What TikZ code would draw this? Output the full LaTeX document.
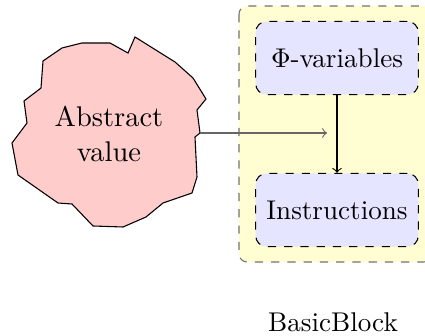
\documentclass[tikz,border=0pt]{standalone}
\usepackage{amssymb}
\usepackage{tikz}
\usepackage{xcolor}
\usetikzlibrary{arrows, calc, positioning}

\begin{document}
\begin{tikzpicture}[x=0.369pt, y=-0.369pt,
                        block/.style={draw=black!55, dashed, fill=yellow!18, rounded corners=3pt},
                        part/.style={draw, dashed, fill=blue!10, rounded corners, minimum width=60pt, minimum height=27pt},
                        value/.style={draw, fill=red!20}]
                        \useasboundingbox (0, 0) rectangle (425, 336);
                        \clip (0, 0) rectangle (425, 336);
                        % basic block
                        \draw[block] (239, 6) rectangle (432, 262);
                        \node[] (bb) at (333, 322) {BasicBlock};
                        \node[part] (phi) at (337, 58) {$\Phi$-variables};
                        \node[part] (instr) at (337, 210) {Instructions};
                        % abstract value
                        \draw[value] (135, 37) -- (128, 53) -- (110, 43) -- (82, 43) -- (62, 48)
                        -- (43, 61) -- (41, 88) -- (24, 101) -- (27, 123) -- (12, 143)
                        -- (18, 175) -- (58, 203) -- (72, 204) -- (93, 226) -- (123, 227)
                        -- (146, 217) -- (163, 203) -- (192, 193) -- (197, 177) -- (195, 137)
                        -- (200, 133) -- (197, 110) -- (206, 99) -- (193, 78) -- (175, 62) -- cycle;
                        \node[align=center, scale=1.05] (av) at (109, 134) {Abstract\\value};
                        \coordinate (out) at (200, 133);
                        \coordinate (in) at (327, 133);
                        \draw
                        (out) edge[black!60, ->] (in)
                        (phi) edge[->] (instr);
                    \end{tikzpicture}
\end{document}
